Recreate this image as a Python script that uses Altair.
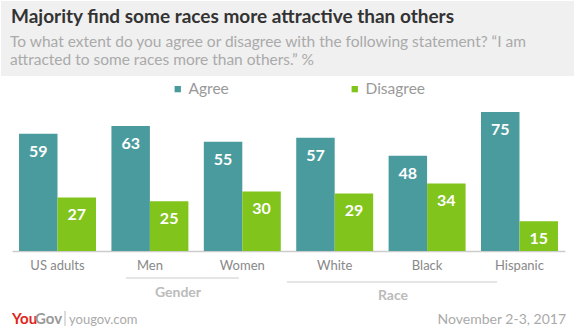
import altair as alt
import pandas as pd

categories = ["US adults", "Men", "Women", "White", "Black", "Hispanic"]
series = ["Agree", "Disagree"]
agree = [59, 63, 55, 57, 48, 75]
disagree = [27, 25, 30, 29, 34, 15]
colors = ["#4a9b9e", "#80c41c"]

title_text = "Majority find some races more attractive than others"
subtitle_lines = [
    "To what extent do you agree or disagree with the following statement? \u201cI am",
    "attracted to some races more than others.\u201d %",
]
group_labels = ["Gender", "Race"]
date_text = "November 2-3, 2017"

rows = []
for c, a, d in zip(categories, agree, disagree):
    rows.append({"category": c, "series": "Agree", "value": a})
    rows.append({"category": c, "series": "Disagree", "value": d})
df = pd.DataFrame(rows)

FONT = "Lato"
W, H = 553, 139

xs = alt.X("category:N", sort=categories,
           scale=alt.Scale(paddingInner=0.167, paddingOuter=0.076),
           axis=alt.Axis(title=None, labelAngle=0, ticks=False, domainColor="#cccccc",
                         domainWidth=1.5, labelColor="#888888", labelFont=FONT,
                         labelFontSize=13, labelPadding=8))
ys = alt.Y("value:Q", scale=alt.Scale(domain=[0, 70], clamp=True, nice=False), axis=None)
xo = alt.XOffset("series:N", sort=series, scale=alt.Scale(paddingInner=0, paddingOuter=0))

base = alt.Chart(df)
bars = base.mark_bar().encode(
    x=xs, y=ys, xOffset=xo,
    color=alt.Color("series:N", sort=series,
                    scale=alt.Scale(domain=series, range=colors),
                    legend=alt.Legend(title=None, orient="none", direction="horizontal",
                                      legendX=158, legendY=-31, symbolType="square",
                                      symbolSize=40, symbolStrokeWidth=0,
                                      labelFont=FONT, labelFontSize=15.5,
                                      labelColor="#999999", columnPadding=118,
                                      labelOffset=3)),
)
labels = base.mark_text(color="white", font=FONT, fontWeight="bold", fontSize=16,
                        baseline="middle", dy=18).encode(
    x=xs, y=ys, xOffset=xo, text="value:Q")

hdr = pd.DataFrame({"k": [0]})
header = alt.Chart(hdr).mark_rect(color="#f0f0f0").encode(
    x=alt.value(-11), x2=alt.value(562), y=alt.value(-111), y2=alt.value(-36))

def txt(text, x, y, size, color, weight="normal", align="left"):
    return alt.Chart(pd.DataFrame({"t": [text]})).mark_text(
        font=FONT, fontSize=size, color=color, fontWeight=weight, align=align,
        baseline="alphabetic").encode(x=alt.value(x), y=alt.value(y), text="t:N")

title = txt(title_text, -1, -89, 19, "#333333", "bold")
sub1 = txt(subtitle_lines[0], -2, -65, 15.5, "#aaaaaa")
sub2 = txt(subtitle_lines[1], -2, -47, 15.5, "#aaaaaa")

gdf = pd.DataFrame({"g": group_labels, "x1": [114, 275], "x2": [227, 485],
                    "y": [27, 31], "tx": [166, 381], "ty": [42, 45]})
glines = []
for i in range(2):
    r = gdf.iloc[[i]]
    glines.append(alt.Chart(r).mark_rule(color="#dddddd", strokeWidth=1.5).encode(
        x=alt.value(float(r.x1.iloc[0])), x2=alt.value(float(r.x2.iloc[0])),
        y=alt.value(float(r.y.iloc[0]) + H)))
    glines.append(alt.Chart(r).mark_text(font=FONT, fontSize=14, fontWeight="bold",
                                         color="#bbbbbb", align="center").encode(
        x=alt.value(float(r.tx.iloc[0]) ), y=alt.value(float(r.ty.iloc[0]) + H),
        text="g:N"))

you = txt("You", 0, 212, 15, "#e2231a", "bold")
gov = txt("Gov", 23, 212, 15, "#999999", "bold")
bar_sep = alt.Chart(hdr).mark_rule(color="#bbbbbb").encode(
    x=alt.value(53), y=alt.value(199), y2=alt.value(214))
site = txt("yougov.com", 57, 212, 13, "#aaaaaa")
date = txt(date_text, 554, 212, 14, "#aaaaaa", align="right")

chart = alt.layer(header, title, sub1, sub2, bars, labels, *glines, you, gov, bar_sep,
                  site, date).properties(
    width=W, height=H,
    autosize=alt.AutoSizeParams(type="none"),
    padding={"left": 12, "top": 112, "right": 11, "bottom": 80},
    background="white",
).configure_view(stroke=None)

chart.save("out.html", embed_options={"renderer": "svg", "actions": False})
